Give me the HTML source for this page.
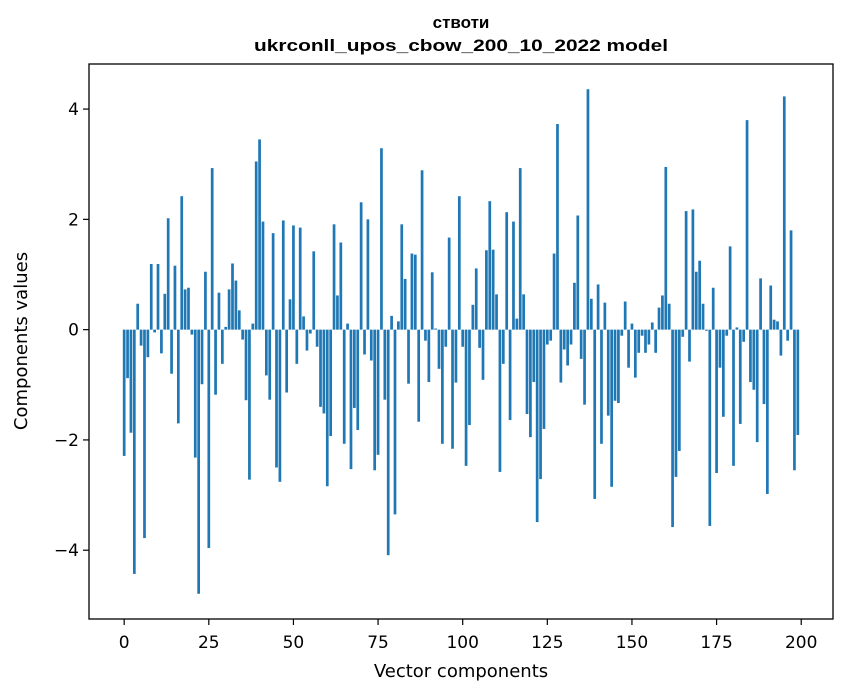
<!DOCTYPE html>
<html><head><meta charset="utf-8">
<style>
html,body{margin:0;padding:0;background:#fff;}
svg{display:block;font-family:"DejaVu Sans","Liberation Sans",sans-serif;}
</style></head>
<body>
<svg id="chart" width="847" height="696" viewBox="0 0 847 696" xmlns="http://www.w3.org/2000/svg">
<rect x="0" y="0" width="847" height="696" fill="#fff"/>
<text x="461" y="28" text-anchor="middle" font-weight="bold" font-size="17" font-family="Liberation Sans, Arial, sans-serif">ствоти</text>
<text x="461" y="51" text-anchor="middle" font-weight="bold" font-size="17" font-family="Liberation Sans, Arial, sans-serif" textLength="414" lengthAdjust="spacingAndGlyphs">ukrconll_upos_cbow_200_10_2022 model</text>
<g id="bars"></g>
<g id="xticks"></g>
<g id="yticks"></g>
<rect x="89" y="64" width="744" height="555" fill="none" stroke="#000" stroke-width="1.3"/>
<text x="461" y="677" text-anchor="middle" font-size="18">Vector components</text>
<text transform="translate(27,341) rotate(-90)" text-anchor="middle" font-size="18">Components values</text>
</svg>
<script>
const values = [
-2.29,-0.88,-1.87,-4.43,0.47,-0.29,-3.78,-0.50,1.19,-0.05,
1.19,-0.43,0.65,2.02,-0.80,1.16,-1.70,2.42,0.73,0.76,
-0.09,-2.32,-4.79,-0.99,1.05,-3.96,2.93,-1.18,0.67,-0.62,
0.05,0.73,1.20,0.89,0.35,-0.18,-1.28,-2.72,0.11,3.05,
3.45,1.96,-0.83,-1.27,1.75,-2.50,-2.76,1.98,-1.14,0.55,
1.89,-0.62,1.85,0.24,-0.38,-0.07,1.42,-0.31,-1.40,-1.52,
-2.84,-1.93,1.91,0.62,1.58,-2.07,0.11,-2.53,-1.42,-1.82,
2.31,-0.45,2.00,-0.56,-2.55,-2.27,3.29,-1.27,-4.09,0.25,
-3.35,0.15,1.91,0.92,-0.98,1.38,1.36,-1.67,2.89,-0.20,
-0.95,1.04,0.02,-0.71,-2.07,-0.31,1.67,-2.16,-0.96,2.42,
-0.31,-2.47,-1.73,0.45,1.11,-0.33,-0.91,1.44,2.33,1.45,
0.64,-2.58,-0.62,2.13,-1.64,1.96,0.20,2.93,0.64,-1.53,
-1.95,-0.95,-3.49,-2.71,-1.80,-0.27,-0.20,1.38,3.73,-0.96,
-0.36,-0.65,-0.27,0.85,2.07,-0.53,-1.36,4.36,0.56,-3.07,
0.82,-2.07,0.49,-1.56,-2.85,-1.29,-1.33,-0.11,0.51,-0.69,
0.11,-0.87,-0.42,-0.11,-0.42,-0.27,0.13,-0.42,0.40,0.62,
2.95,0.47,-3.58,-2.67,-2.20,-0.13,2.15,-0.58,2.18,1.05,
1.25,0.47,-0.02,-3.56,0.76,-2.60,-0.69,-1.58,-0.11,1.51,
-2.47,0.04,-1.71,-0.22,3.80,-0.95,-1.09,-2.04,0.93,-1.35,
-2.98,0.80,0.18,0.15,-0.47,4.23,-0.20,1.80,-2.55,-1.91
];
const xTickValues = [0,25,50,75,100,125,150,175,200];
const yTickValues = [-4,-2,0,2,4];
const yTickLabels = ["\u22124","\u22122","0","2","4"];

const NS = "http://www.w3.org/2000/svg";
const plot = {left:89, right:833, top:64, bottom:619};
const n = values.length;
const xmin = -0.4 - 0.05*(n-0.2), xmax = (n-1)+0.4 + 0.05*(n-0.2);
const vmax = Math.max(...values, 0), vmin = Math.min(...values, 0);
const pad = 0.05*(vmax - vmin);
const ymin = vmin - pad, ymax = vmax + pad;
function xs(v){ return plot.left + (v - xmin)/(xmax - xmin)*(plot.right - plot.left); }
function ys(v){ return plot.bottom - (v - ymin)/(ymax - ymin)*(plot.bottom - plot.top); }

const barsG = document.getElementById('bars');
values.forEach((v,i)=>{
  const r = document.createElementNS(NS,'rect');
  const x0 = xs(i-0.4), x1 = xs(i+0.4);
  const y0 = ys(Math.max(v,0)), y1 = ys(Math.min(v,0));
  r.setAttribute('x', x0);
  r.setAttribute('width', x1-x0);
  r.setAttribute('y', y0);
  r.setAttribute('height', Math.max(y1-y0,0.3));
  r.setAttribute('fill', '#1f77b4');
  
  
  barsG.appendChild(r);
});

const xg = document.getElementById('xticks');
xTickValues.forEach(t=>{
  const x = xs(t);
  const l = document.createElementNS(NS,'line');
  l.setAttribute('x1',x); l.setAttribute('x2',x);
  l.setAttribute('y1',plot.bottom); l.setAttribute('y2',plot.bottom+6);
  l.setAttribute('stroke','#000'); l.setAttribute('stroke-width','1.2');
  
  
  xg.appendChild(l);
  const tx = document.createElementNS(NS,'text');
  tx.setAttribute('x',x); tx.setAttribute('y',648);
  tx.setAttribute('text-anchor','middle'); tx.setAttribute('font-size','17');
  tx.textContent = String(t);
  
  
  xg.appendChild(tx);
});

const yg = document.getElementById('yticks');
yTickValues.forEach((t,k)=>{
  const y = ys(t);
  const l = document.createElementNS(NS,'line');
  l.setAttribute('x1',plot.left-6); l.setAttribute('x2',plot.left);
  l.setAttribute('y1',y); l.setAttribute('y2',y);
  l.setAttribute('stroke','#000'); l.setAttribute('stroke-width','1.2');
  
  
  yg.appendChild(l);
  const tx = document.createElementNS(NS,'text');
  tx.setAttribute('x',plot.left-10); tx.setAttribute('y',y+6);
  tx.setAttribute('text-anchor','end'); tx.setAttribute('font-size','17');
  tx.textContent = yTickLabels[k];
  
  
  yg.appendChild(tx);
});
</script>
</body></html>
